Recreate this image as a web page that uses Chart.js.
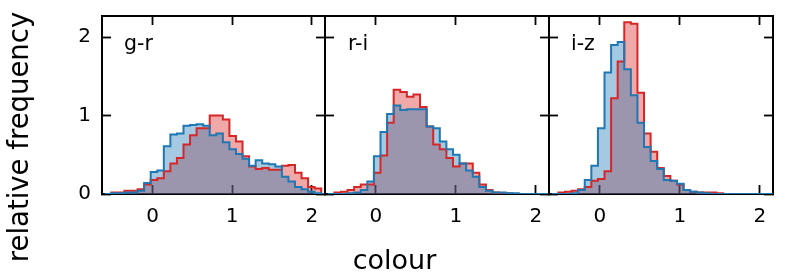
<!DOCTYPE html>
<html><head><meta charset="utf-8">
<script src="https://cdn.jsdelivr.net/npm/chart.js@4"></script>
<style>
html,body{margin:0;padding:0;background:#fff;}
#wrap{position:relative;width:789px;height:274px;overflow:hidden;font-family:"DejaVu Sans",sans-serif;color:#000;}
canvas{position:absolute;left:0;top:0;}
.ptitle{position:absolute;top:33px;font-size:20.5px;line-height:20.5px;white-space:nowrap;}
#xlab{position:absolute;left:0;top:246px;width:789px;text-align:center;font-size:27px;line-height:27px;}
#ylab{position:absolute;left:5px;top:274px;width:274px;height:27px;font-size:27.5px;line-height:27px;text-align:center;white-space:nowrap;transform-origin:0 0;transform:rotate(-90deg);}
</style></head>
<body><div id="wrap">
<canvas id="c1" width="789" height="274"></canvas>
<canvas id="c2" width="789" height="274"></canvas>
<canvas id="c3" width="789" height="274"></canvas>
<div class="ptitle" style="left:124px">g-r</div>
<div class="ptitle" style="left:348px">r-i</div>
<div class="ptitle" style="left:571px">i-z</div>
<div id="xlab">colour</div>
<div id="ylab">relative frequency</div>
</div>
<script>
// histogram bin edges (shared by all panels)
const binEdges = [-0.6, -0.5176, -0.4353, -0.3529, -0.2706, -0.1882, -0.1059, -0.0235, 0.0588, 0.1412,
  0.2235, 0.3059, 0.3882, 0.4706, 0.5529, 0.6353, 0.7176, 0.8, 0.8824, 0.9647,
  1.0471, 1.1294, 1.2118, 1.2941, 1.3765, 1.4588, 1.5412, 1.6235, 1.7059, 1.7882,
  1.8706, 1.9529, 2.0353, 2.1176, 2.2];

const panelNames = ['g-r', 'r-i', 'i-z'];

// g-r
const grBlue = [0,0.01,0.01,0.02,0.02,0.04,0.14,0.28,0.30,0.61,0.76,0.77,0.87,0.88,0.89,0.87,0.75,0.77,0.66,0.57,0.51,0.45,0.36,0.43,0.39,0.38,0.35,0.22,0.16,0.09,0.06,0.03,0.01,0];
const grRed  = [0,0.02,0.02,0.04,0.04,0.06,0.12,0.18,0.20,0.29,0.39,0.46,0.63,0.75,0.84,0.84,1.00,1.00,0.95,0.74,0.67,0.48,0.35,0.32,0.33,0.31,0.31,0.36,0.37,0.27,0.20,0.09,0.07,0];
// r-i
const riBlue = [0,0,0,0.01,0.02,0.05,0.16,0.48,0.79,1.02,1.13,1.07,1.08,1.08,1.08,0.86,0.84,0.67,0.57,0.50,0.39,0.30,0.22,0.09,0.04,0.02,0.02,0.01,0.01,0,0,0,0,0];
const riRed  = [0,0.02,0.03,0.05,0.09,0.12,0.12,0.27,0.49,0.91,1.33,1.30,1.24,1.27,1.11,0.86,0.63,0.57,0.46,0.35,0.39,0.39,0.27,0.12,0.05,0.02,0.01,0.01,0,0,0,0,0,0];
// i-z
const izBlue = [0,0,0,0.01,0.05,0.18,0.36,0.84,1.55,1.90,1.94,1.59,1.26,0.91,0.60,0.42,0.32,0.18,0.17,0.13,0.05,0.03,0.02,0.01,0,0,0,0,0,0,0,0,0,0];
const izRed  = [0,0.02,0.03,0.04,0.06,0.09,0.17,0.19,0.29,1.22,1.69,2.19,2.17,1.29,0.77,0.54,0.33,0.23,0.17,0.12,0.05,0.03,0.02,0.02,0.02,0.01,0,0,0,0,0,0,0,0];

const xTickValues = [0, 1, 2];
const yTickValues = [0, 1, 2];

const X_MIN = -0.635, X_MAX = 2.165, Y_MIN = 0, Y_MAX = 2.27;

function histPoints(values) {
  const n = values.length;
  const pts = [{x: binEdges[0], y: 0}];
  for (let i = 0; i < n; i++) pts.push({x: binEdges[i], y: values[i]});
  pts.push({x: binEdges[n], y: values[n - 1]});
  pts.push({x: binEdges[n], y: 0});
  return pts;
}

function axis(pos, showLabels, min, max, tickVals, size) {
  const isX = (pos === 'top' || pos === 'bottom');
  return {
    type: 'linear', position: pos, min: min, max: max, z: 1,
    afterBuildTicks: s => { s.ticks = tickVals.map(v => ({value: v})); },
    afterFit: s => {
      if (isX) s.height = size; else s.width = size;
      s.paddingTop = 0; s.paddingBottom = 0; s.paddingLeft = 0; s.paddingRight = 0;
    },
    grid: {display: true, drawOnChartArea: false, drawTicks: true, tickLength: -9, tickColor: '#000', tickWidth: 1.8},
    border: {display: true, color: '#000', width: 2},
    ticks: {display: showLabels, color: '#000', font: {family: 'DejaVu Sans', size: 20},
            padding: isX ? 20 : 20, autoSkip: false, maxRotation: 0, minRotation: 0,
            callback: v => String(v)}
  };
}

const panels = [
  {id: 'c1', left: 102, right: 325, blue: grBlue, red: grRed, showY: true},
  {id: 'c2', left: 325, right: 549, blue: riBlue, red: riRed, showY: false},
  {id: 'c3', left: 549, right: 773, blue: izBlue, red: izRed, showY: false}
];

const TOP = 16, BOTTOM = 194, H = 274, W = 789;

panels.forEach(p => {
  new Chart(document.getElementById(p.id), {
    type: 'line',
    data: {datasets: [
      {data: histPoints(p.blue), borderColor: '#1f77b4', backgroundColor: 'rgba(31,119,180,0.4)',
       borderWidth: 2, fill: 'origin', stepped: 'before', pointRadius: 0, pointHoverRadius: 0},
      {data: histPoints(p.red), borderColor: '#d62728', backgroundColor: 'rgba(214,39,40,0.4)',
       borderWidth: 2, fill: 'origin', stepped: 'before', pointRadius: 0, pointHoverRadius: 0}
    ]},
    options: {
      responsive: false, animation: false, devicePixelRatio: 1, events: [],
      layout: {autoPadding: false, padding: {left: 0, right: W - p.right, top: TOP, bottom: 0}},
      plugins: {legend: {display: false}, tooltip: {enabled: false},
                filler: {drawTime: 'beforeDatasetsDraw', propagate: false}},
      scales: {
        x: axis('bottom', true, X_MIN, X_MAX, xTickValues, H - BOTTOM),
        x2: axis('top', false, X_MIN, X_MAX, xTickValues, 0),
        y: axis('left', p.showY, Y_MIN, Y_MAX, yTickValues, p.left),
        y2: axis('right', false, Y_MIN, Y_MAX, yTickValues, 0)
      }
    }
  });
});
</script>
</body></html>
